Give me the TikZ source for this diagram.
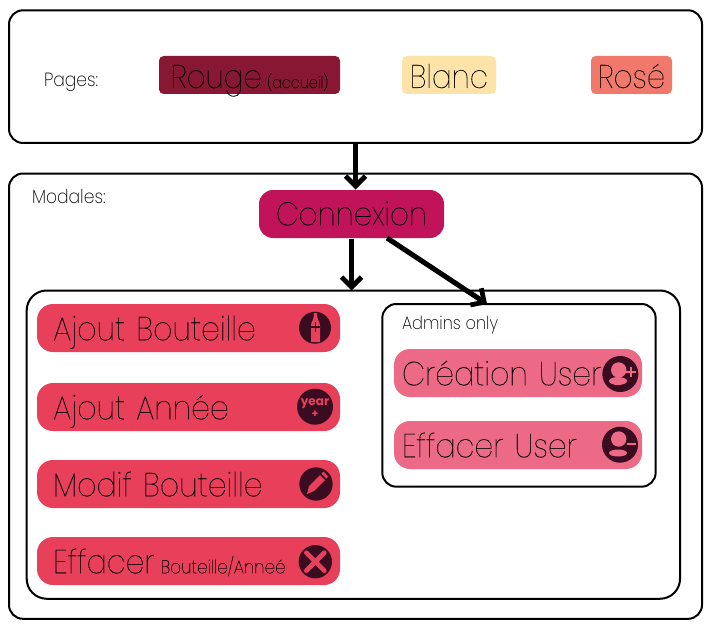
\documentclass[tikz,border=0pt]{standalone}
\usepackage{fontspec}
\setmainfont[FakeStretch=0.9,FakeBold=0.12]{Poppins Thin}
\newfontfamily\labelfont[FakeStretch=0.9]{Poppins ExtraLight}
\newfontfamily\iconfont{Poppins Bold}
\usetikzlibrary{arrows.meta}
\definecolor{myrouge}{RGB}{135, 23, 50}
\definecolor{myblanc}{RGB}{253, 227, 167}
\definecolor{myrose}{RGB}{241, 121, 107}
\definecolor{myconnexion}{RGB}{192, 19, 90}
\definecolor{mybouton}{RGB}{232, 63, 91}
\definecolor{myadmin}{RGB}{236, 106, 134}
\definecolor{myicon}{RGB}{58, 12, 32}
\tikzset{every picture/.style={line width=0.75pt}}
\tikzset{
  cadre/.style={draw,line width=1.5pt,rounded corners=10.5pt,anchor=north west,inner sep=0pt,outer sep=0pt},
  page/.style={rounded corners=3.5pt,minimum height=28.5pt,inner sep=0pt,text height=20pt,text depth=0.5pt,font=\fontsize{24.5}{24.5}\selectfont},
  bouton/.style={fill=mybouton,rounded corners=12pt,minimum height=36pt,minimum width=227.25pt,text width=203pt,inner sep=0pt,align=left,text height=19pt,text depth=0.5pt,font=\fontsize{25}{25}\selectfont},
  boutonadmin/.style={bouton,fill=myadmin,minimum width=186pt,text width=174pt},
  pastille/.style={circle,fill=myicon,inner sep=0pt,minimum size=24pt},
  fleche/.style={-{Straight Barb[length=7.5pt,width=15pt,line width=3.6pt]},line width=3.8pt},
  legende/.style={inner sep=0pt,anchor=west,font=\labelfont\fontsize{14.3}{15}\selectfont}
}
\begin{document}
\begin{tikzpicture}[x=0.75pt,y=0.75pt,yscale=-1]
\useasboundingbox (0,0) rectangle (712,631);

%Cadres
\node (pages) [cadre,minimum width=519.75pt,minimum height=99.5pt] at (9,10.3) {};
\node (modales) [cadre,minimum width=519.75pt,minimum height=334pt] at (9,173.5) {};
\node (modal) [cadre,rounded corners=15pt,minimum width=490pt,minimum height=231.2pt] at (26.7,290.5) {};
\node (admins) [cadre,minimum width=205pt,minimum height=137pt] at (382.3,304) {};

% Text Node
\node (titrepages) [legende] at (43.5,82) {Pages:};
\node (titremodales) [legende] at (31.5,197) {Modales:};
\node (titreadmins) [legende,font=\labelfont\fontsize{13.5}{14}\selectfont] at (401.5,325.5) {Admins only};

%Pages
\node (rouge) [page,fill=myrouge,minimum width=135.75pt] at (249.5,75) {Rouge\,{\fontsize{12}{12}\selectfont (accueil)}};
\node (blanc) [page,fill=myblanc,minimum width=70.5pt] at (449,75) {Blanc};
\node (rose) [page,fill=myrose,minimum width=60.75pt] at (631.5,75) {Rosé};

\node (connexion) [fill=myconnexion,rounded corners=10.5pt,minimum width=138.75pt,minimum height=36pt,inner sep=0pt,text height=17.5pt,text depth=0.5pt,font=\fontsize{24.5}{24.5}\selectfont] at (351.5,214) {Connexion};

%Boutons
\node (ajoutbouteille) [bouton] at (188.5,328) {Ajout Bouteille};
\node (ajoutannee) [bouton] at (188.5,407) {Ajout Année};
\node (modifbouteille) [bouton] at (188.5,484) {Modif Bouteille};
\node (effacer) [bouton] at (188.5,561) {Effacer\hspace{4.7pt}{\fontsize{14}{14}\selectfont Bouteille/Anneé}};
\node (creation) [boutonadmin] at (518,373) {Création User};
\node (effaceruser) [boutonadmin] at (518,445) {Effacer User};

%Fleches
\coordinate (departadmins) at (387,238);
\coordinate (arriveeadmins) at (487,304);
\draw [fleche] (pages.south) -- (pages.south |- connexion.north);
\draw [fleche] (connexion.south) -- (connexion.south |- modal.north);
\draw [fleche] (departadmins) -- (arriveeadmins);

%Icone bouteille
\node (iconebouteille) [pastille] at (315,327.7) {};
\fill [mybouton] (311,342) -- (311,326) .. controls (311,321) and (314,321) .. (314,313) -- (317,313) .. controls (317,321) and (320,321) .. (320,326) -- (320,342) -- cycle;
\draw [myicon,line width=0.9pt] (315.5,322) -- (315.5,332) (311,327) -- (320,327);

%Icone annee
\node (iconeannee) [pastille,minimum size=27pt] at (315,406.7) {};
\node (texteannee) [text=mybouton,inner sep=0pt,font=\iconfont\fontsize{9}{9}\selectfont] at (315,403.5) {year};
\node (plusannee) [text=mybouton,inner sep=0pt,font=\iconfont\fontsize{8}{8}\selectfont] at (315,414) {+};

%Icone crayon
\node (iconecrayon) [pastille,minimum size=25pt] at (316,484) {};
\fill [mybouton] (307,494) -- (309,486) -- (320,475) -- (325,480) -- (314,491) -- cycle;
\fill [mybouton] (321.5,473.5) -- (323.5,471.5) -- (328,476.5) -- (326.5,478.5) -- cycle;

%Icone croix
\node (iconecroix) [pastille,minimum size=25pt] at (315.3,561.7) {};
\draw [mybouton,line width=3.5pt,line cap=round] (306.3,552.7) -- (324.3,570.7) (324.3,552.7) -- (306.3,570.7);

%Icones user
\node (iconecreation) [pastille,minimum size=27pt] at (620.3,374) {};
\fill [myadmin] (618.7,370) circle (7.7);
\fill [myadmin] (618,381) ellipse (9 and 4);
\draw [myadmin,line width=1.5pt] (625.7,372) -- (635.7,372) (630.7,367) -- (630.7,377);
\node (iconeeffacer) [pastille,minimum size=27pt] at (620,444.7) {};
\fill [myadmin] (618.7,439) circle (7.7);
\fill [myadmin] (618,453) ellipse (9 and 3.5);
\draw [myadmin,line width=1.5pt] (626.7,444) -- (635.7,444);

\end{tikzpicture}
\end{document}
